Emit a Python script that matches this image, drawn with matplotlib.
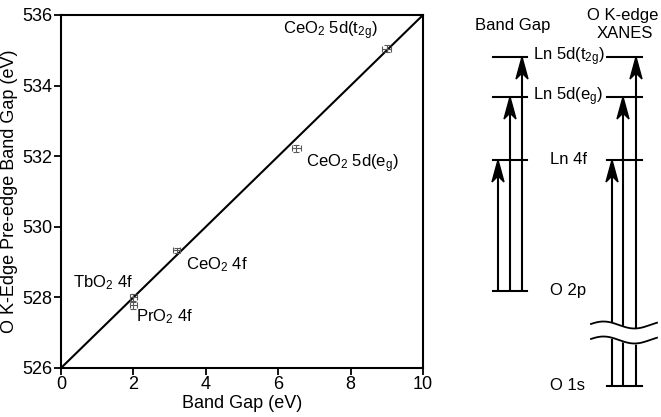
import numpy as np
import matplotlib.pyplot as plt
from matplotlib.patches import Polygon

plt.rcParams['font.family'] = ['Liberation Sans', 'DejaVu Sans']
plt.rcParams['mathtext.fontset'] = 'custom'
plt.rcParams['mathtext.rm'] = 'Liberation Sans'
plt.rcParams['mathtext.it'] = 'Liberation Sans'
plt.rcParams['mathtext.default'] = 'regular'

# measured points (band gap vs O K-edge pre-edge)
labels = ['TbO$_2$ 4f', 'PrO$_2$ 4f', 'CeO$_2$ 4f', 'CeO$_2$ 5d(e$_g$)', 'CeO$_2$ 5d(t$_{2g}$)']
band_gap = [2.0, 2.0, 3.2, 6.5, 9.0]
pre_edge = [528.0, 527.78, 529.33, 532.22, 535.05]
x_err = [0.1, 0.1, 0.1, 0.12, 0.12]
y_err = [0.1, 0.1, 0.08, 0.1, 0.1]
label_x = [0.32, 2.07, 3.45, 6.78, 6.14]
label_y = [528.42, 527.45, 528.92, 531.78, 535.55]

# 1:1 reference line
line_x = [0, 10]
line_y = [526, 536]

# schematic energy levels (figure pixel rows)
level_names = ['Ln 5d(t$_{2g}$)', 'Ln 5d(e$_g$)', 'Ln 4f', 'O 2p', 'O 1s']
level_y = [57, 97, 160, 291, 386]
bg_arrow_x = [498, 510, 522]
xanes_arrow_x = [612, 623, 636]

fig = plt.figure(figsize=(6.61, 4.17), dpi=100)
ax = fig.add_axes([61 / 661, 49 / 417, 362 / 661, 353 / 417])

ax.plot(line_x, line_y, color='black', lw=1.5, zorder=2)
ax.errorbar(band_gap, pre_edge, xerr=x_err, yerr=y_err, fmt='none',
            ecolor='0.35', elinewidth=0.8, capsize=2.5, capthick=0.8, zorder=3)
for i in range(len(labels)):
    ax.text(label_x[i], label_y[i], labels[i], fontsize=12, ha='left', va='center')

ax.set_xlim(0, 10)
ax.set_ylim(526, 536)
ax.set_xticks(np.arange(0, 11, 2))
ax.set_yticks(np.arange(526, 537, 2))
ax.tick_params(direction='out', length=5, width=1.3, labelsize=13, pad=1)
for s in ax.spines.values():
    s.set_linewidth(1.5)
ax.set_xlabel('Band Gap (eV)', fontsize=13, labelpad=1)
ax.set_ylabel('O K-Edge Pre-edge Band Gap (eV)', fontsize=13, labelpad=3)

# energy level diagram, drawn in pixel space
sx = fig.add_axes([0, 0, 1, 1], zorder=5)
sx.set_xlim(0, 661)
sx.set_ylim(417, 0)
sx.axis('off')
sx.patch.set_alpha(0)

lw = 1.5


def arrow(x, y0, y1):
    sx.plot([x, x], [y0, y1 + 10], color='black', lw=lw, solid_capstyle='butt', zorder=2)
    head = Polygon([[x, y1], [x - 6, y1 + 22], [x, y1 + 16], [x + 6, y1 + 22]],
                   closed=True, color='black', zorder=3)
    sx.add_patch(head)


# left: band gap
for y in level_y[:4]:
    sx.plot([493, 527], [y, y], color='black', lw=lw, zorder=2)
for x, y in zip(bg_arrow_x, [level_y[2], level_y[1], level_y[0]]):
    arrow(x, level_y[3], y)

# right: XANES
for y in level_y[:3] + [level_y[4]]:
    sx.plot([607, 642], [y, y], color='black', lw=lw, zorder=2)
for x, y in zip(xanes_arrow_x, [level_y[2], level_y[1], level_y[0]]):
    arrow(x, level_y[4], y)

# axis break
wx = np.linspace(591, 657, 200)
w1 = 325 - 3.5 * np.sin(2 * np.pi * (wx - 588) / 62)
w2 = w1 + 15
sx.fill_between(wx, w1, w2, color='white', zorder=4)
sx.plot(wx, w1, color='black', lw=1.3, zorder=5)
sx.plot(wx, w2, color='black', lw=1.3, zorder=5)

label_cx = [569, 568, 568, 568, 567]
for name, y, cx in zip(level_names, level_y, label_cx):
    sx.text(cx, y, name, fontsize=12, ha='center', va='center', zorder=6,
            bbox=dict(facecolor='white', edgecolor='none', pad=1))

sx.text(513, 25, 'Band Gap', fontsize=12, ha='center', va='center')
sx.text(623, 15, 'O K-edge', fontsize=12, ha='center', va='center')
sx.text(625, 33, 'XANES', fontsize=12, ha='center', va='center')

fig.savefig('out.png', dpi=100)
